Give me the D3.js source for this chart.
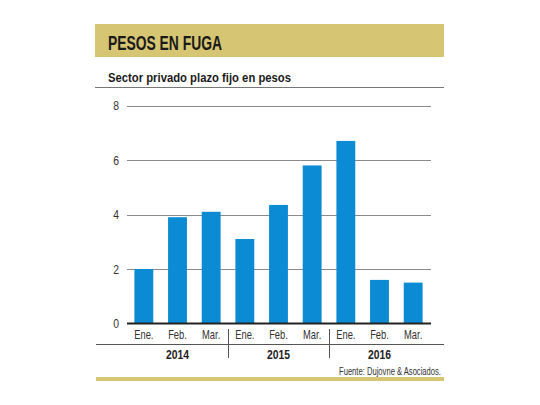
<!DOCTYPE html>
<html><head><meta charset="utf-8">
<script src="https://cdn.jsdelivr.net/npm/d3@7/dist/d3.min.js"></script>
<style>
html,body{margin:0;padding:0;background:#fff;}
svg{display:block;}
text{font-family:"Liberation Sans",Arial,sans-serif;}
</style></head>
<body>
<svg id="c" width="540" height="405"></svg>
<script>
const months = ["Ene.","Feb.","Mar.","Ene.","Feb.","Mar.","Ene.","Feb.","Mar."];
const years = ["2014","2015","2016"];
const values = [2.0, 3.9, 4.1, 3.1, 4.35, 5.8, 6.7, 1.6, 1.5];
const yTicks = [0, 2, 4, 6, 8];
const title = "PESOS EN FUGA";
const subtitle = "Sector privado plazo fijo en pesos";
const source = "Fuente: Dujovne & Asociados.";

const svg = d3.select("#c");
const gold = "#d6c572";
const blue = "#0a8bd4";

// header band
svg.append("rect").attr("x",95).attr("y",24).attr("width",349).attr("height",33).attr("fill",gold);
svg.append("text").attr("x",108).attr("y",50).attr("font-size",21).attr("font-weight","bold")
  .attr("fill","#1a1a1a").attr("textLength",114).attr("lengthAdjust","spacingAndGlyphs").text(title);
svg.append("text").attr("x",108).attr("y",82).attr("font-size",13.5).attr("font-weight","bold")
  .attr("fill","#1a1a1a").attr("textLength",183).attr("lengthAdjust","spacingAndGlyphs").text(subtitle);
svg.append("line").attr("x1",95).attr("x2",444).attr("y1",87.5).attr("y2",87.5)
  .attr("stroke","#777").attr("stroke-width",1);

const idx = values.map((d,i)=>i);
const x = d3.scaleBand().domain(idx).range([127,430]).paddingInner(0.44).paddingOuter(0.22);
const y = d3.scaleLinear().domain([0,8]).range([323.5,105.5]);

// y axis labels
const yAxis = d3.axisLeft(y).tickValues(yTicks).tickSize(0).tickPadding(0).tickFormat(d3.format("d"));
const gy = svg.append("g").attr("transform","translate(119,0)").call(yAxis);
gy.select(".domain").remove();
gy.selectAll("text").attr("font-size",13).attr("fill","#333").attr("font-family","\"Liberation Sans\",Arial,sans-serif")
  .attr("transform","scale(0.8,1)");

// grid
svg.append("g").selectAll("line").data(yTicks.filter(d=>d>0)).join("line")
  .attr("x1",127).attr("x2",431).attr("y1",d=>Math.round(y(d))+0.5).attr("y2",d=>Math.round(y(d))+0.5)
  .attr("stroke","#8a8a8a").attr("stroke-width",1);

// bars
svg.append("g").selectAll("rect").data(values).join("rect")
  .attr("x",(d,i)=>x(i)).attr("width",x.bandwidth())
  .attr("y",d=>y(d)).attr("height",d=>y(0)-y(d)).attr("fill",blue);

// zero line
svg.append("line").attr("x1",127).attr("x2",431).attr("y1",y(0)).attr("y2",y(0))
  .attr("stroke","#222").attr("stroke-width",2);

// month labels
const xAxis = d3.axisBottom(x).tickSize(0).tickPadding(0).tickFormat(i=>months[i]);
const gx = svg.append("g").attr("transform","translate(0,329.5)").call(xAxis);
gx.select(".domain").remove();
gx.selectAll("text").attr("font-size",13).attr("fill","#333").attr("dy","0.71em")
  .attr("font-family","\"Liberation Sans\",Arial,sans-serif")
  .attr("transform","scale(0.72,1)");

// line under months
svg.append("line").attr("x1",96).attr("x2",444).attr("y1",344.5).attr("y2",344.5)
  .attr("stroke","#555").attr("stroke-width",1);

// year separators and labels
const step = x.step();
[3,6].forEach(i=>{
  const sx = Math.round(x(i) - (step - x.bandwidth())/2) + 0.5;
  svg.append("line").attr("x1",sx).attr("x2",sx).attr("y1",329).attr("y2",358)
    .attr("stroke","#555").attr("stroke-width",1);
});
svg.append("g").selectAll("text").data(years).join("text")
  .attr("x",(d,k)=>x(k*3+1)+x.bandwidth()/2 - 11.5).attr("y",359)
  .attr("font-size",12).attr("font-weight","bold").attr("fill","#222")
  .attr("textLength",23).attr("lengthAdjust","spacingAndGlyphs")
  .text(d=>d);

// source
svg.append("text").attr("x",339).attr("y",375).attr("font-size",10)
  .attr("fill","#333").attr("textLength",102).attr("lengthAdjust","spacingAndGlyphs").text(source);

// bottom band
svg.append("rect").attr("x",96).attr("y",377).attr("width",348).attr("height",4).attr("fill",gold);
</script>
</body></html>
